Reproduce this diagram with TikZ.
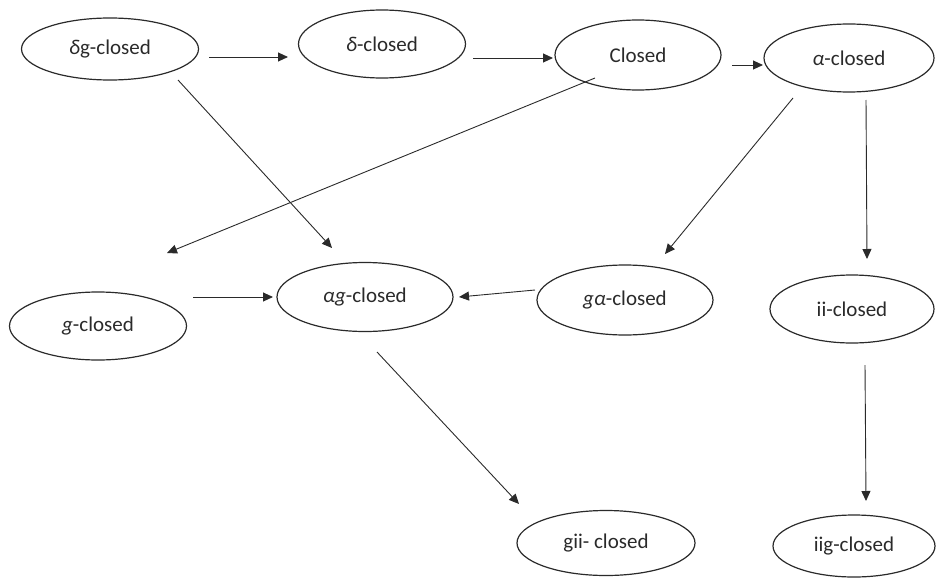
\documentclass[tikz,border=0pt]{standalone}
\usepackage{fontspec}
\setmainfont{Carlito}
\usetikzlibrary{shapes.geometric,arrows.meta}
\definecolor{ink}{HTML}{2A2A2A}
\begin{document}
\begin{tikzpicture}[x=1pt,y=-1pt,
  st/.style 2 args={draw=ink, ellipse, line width=1.2pt, inner sep=0pt,
    minimum width=#1, minimum height=#2, text=ink,
    font=\fontsize{21}{25}\selectfont},
  arr/.style={draw=ink, line width=0.9pt, -{Triangle[length=10pt,width=9pt]}}]
\useasboundingbox (0,0) rectangle (936,578);
% nodes
\node[st={177pt}{62pt}] (dg)  at (110,49)  {\textit{δ}g-closed};
\node[st={167pt}{68pt}] (d)   at (382,44)  {\textit{δ}-closed};
\node[st={166pt}{70pt}] (cl)  at (638,55)  {Closed};
\node[st={170pt}{68pt}] (al)  at (849,58)  {\textit{α}-closed};
\node[st={177pt}{68pt}] (g)   at (98,326)  {\textit{g}-closed};
\node[st={176pt}{69pt}] (ag)  at (365,297) {\textit{αg}-closed};
\node[st={176pt}{70pt}] (ga)  at (625,300) {\textit{gα}-closed};
\node[st={164pt}{68pt}] (ii)  at (852,309) {ii-closed};
\node[st={178pt}{65pt}] (gii) at (606,543) {gii- closed};
\node[st={162pt}{62pt}] (iig) at (854,546) {iig-closed};
% connector end points (arrows float free of the ellipses)
\coordinate (dg-d-s) at (209,57);   \coordinate (dg-d-e) at (288,57);
\coordinate (d-cl-s) at (473,58);   \coordinate (d-cl-e) at (553,58);
\coordinate (cl-al-s) at (732,65);  \coordinate (cl-al-e) at (763,65);
\coordinate (dg-ag-s) at (178,80);  \coordinate (dg-ag-e) at (332,248);
\coordinate (cl-g-s) at (595,78);   \coordinate (cl-g-e) at (167,253);
\coordinate (al-ga-s) at (793,98);  \coordinate (al-ga-e) at (665,254);
\coordinate (al-ii-s) at (866,100); \coordinate (al-ii-e) at (867,259);
\coordinate (g-ag-s) at (193,297);  \coordinate (g-ag-e) at (273,297);
\coordinate (ga-ag-s) at (535,290); \coordinate (ga-ag-e) at (459,297);
\coordinate (ag-gii-s) at (377,352); \coordinate (ag-gii-e) at (519,504);
\coordinate (ii-iig-s) at (865,365); \coordinate (ii-iig-e) at (866,501);
% connectors
\draw[arr] (dg-d-s) -- (dg-d-e);
\draw[arr] (d-cl-s) -- (d-cl-e);
\draw[arr] (cl-al-s) -- (cl-al-e);
\draw[arr] (dg-ag-s) -- (dg-ag-e);
\draw[arr] (cl-g-s) -- (cl-g-e);
\draw[arr] (al-ga-s) -- (al-ga-e);
\draw[arr] (al-ii-s) -- (al-ii-e);
\draw[arr] (g-ag-s) -- (g-ag-e);
\draw[arr] (ga-ag-s) -- (ga-ag-e);
\draw[arr] (ag-gii-s) -- (ag-gii-e);
\draw[arr] (ii-iig-s) -- (ii-iig-e);
\end{tikzpicture}
\end{document}
